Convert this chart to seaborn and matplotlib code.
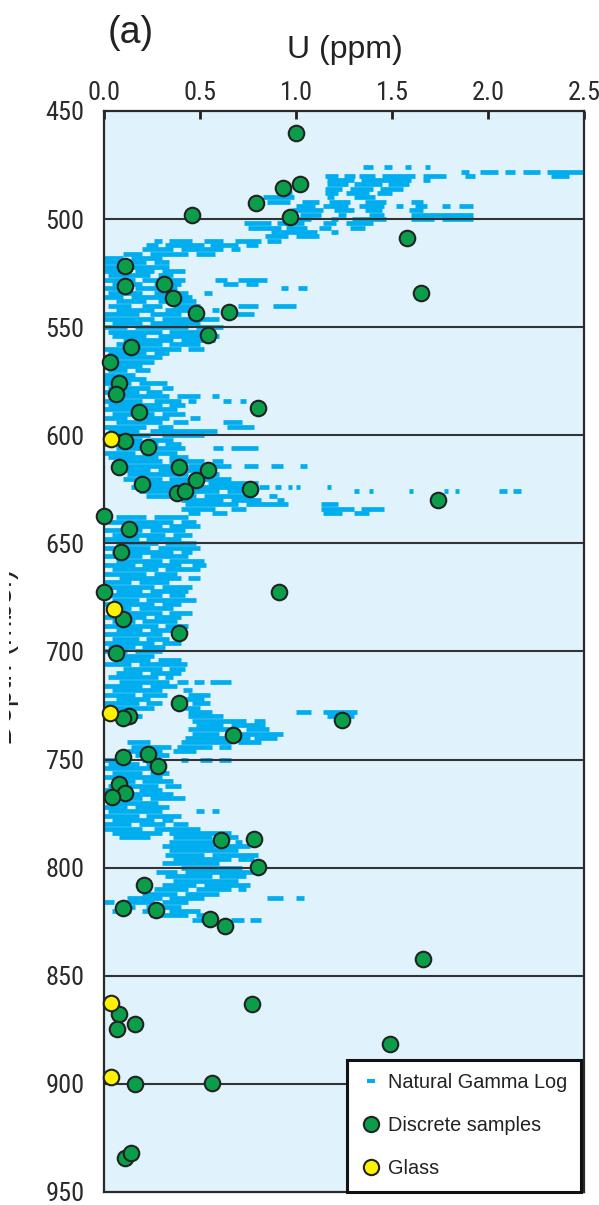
import pandas as pd
import matplotlib.pyplot as plt
import seaborn as sns
from matplotlib.lines import Line2D
from matplotlib.transforms import Bbox, TransformedBbox

# Muestras discretas (U ppm, profundidad mbsf)
sample_u = [1.00, 0.93, 1.02, 0.79, 0.46, 0.97, 1.58, 0.11, 0.11, 0.31, 0.36, 0.48,
            0.65, 1.65, 0.54, 0.14, 0.03, 0.08, 0.06, 0.18, 0.80, 0.11, 0.23, 0.08,
            0.39, 0.54, 0.48, 0.20, 0.38, 0.42, 0.76, 1.74, 0.00, 0.13, 0.09, 0.00,
            0.91, 0.10, 0.39, 0.06, 0.39, 0.13, 0.10, 1.24, 0.67, 0.10, 0.23, 0.28,
            0.08, 0.11, 0.04, 0.61, 0.78, 0.80, 0.21, 0.10, 0.27, 0.55, 0.63, 1.66,
            0.77, 0.08, 0.16, 0.07, 1.49, 0.16, 0.56, 0.11, 0.14]
sample_depth = [460.2, 485.5, 483.9, 492.7, 498.1, 498.9, 508.6, 521.7, 531.0, 530.2, 536.6, 543.6,
                543.1, 534.0, 553.6, 559.0, 566.2, 576.0, 580.9, 589.0, 587.2, 602.6, 605.3, 614.5,
                614.5, 616.0, 620.7, 622.7, 626.5, 625.8, 625.0, 630.0, 637.3, 643.3, 653.8, 672.3,
                672.3, 685.1, 691.3, 700.8, 724.0, 729.8, 730.6, 731.7, 738.6, 748.6, 747.5, 752.9,
                761.3, 765.6, 767.4, 787.2, 786.7, 799.5, 808.0, 818.5, 819.6, 823.7, 827.0, 842.2,
                863.2, 867.8, 872.4, 874.7, 881.7, 900.2, 899.7, 934.1, 931.8]

# Vidrio
glass_u = [0.035, 0.05, 0.03, 0.036, 0.036]
glass_depth = [601.7, 680.3, 728.3, 862.7, 896.6]

# Registro de rayos gamma: (profundidad, U inicio, U fin) de cada trazo
log_476_520 = [
    (476, 1.35, 1.40), (476, 1.46, 1.50), (476, 1.57, 1.60), (476, 1.67, 1.70),
    (478, 1.86, 1.90), (478, 1.96, 2.05), (478, 2.09, 2.14), (478, 2.18, 2.27), (478, 2.31, 2.50),
    (480, 1.15, 1.22), (480, 1.25, 1.31), (480, 1.33, 1.41), (480, 1.45, 1.62), (480, 1.66, 1.78),
    (480, 1.88, 1.93), (480, 2.33, 2.42),
    (482, 1.16, 1.30), (482, 1.34, 1.60), (482, 1.66, 1.70),
    (484, 1.16, 1.27), (484, 1.30, 1.45), (484, 1.48, 1.59),
    (486, 1.15, 1.24), (486, 1.28, 1.40), (486, 1.44, 1.56),
    (488, 0.93, 0.98), (488, 1.15, 1.22), (488, 1.26, 1.38), (488, 1.42, 1.50),
    (490, 0.83, 0.99), (490, 1.16, 1.20), (490, 1.30, 1.41),
    (492, 0.85, 0.97), (492, 1.03, 1.12), (492, 1.17, 1.28), (492, 1.36, 1.47), (492, 1.60, 1.66),
    (494, 1.00, 1.10), (494, 1.14, 1.27), (494, 1.33, 1.46), (494, 1.52, 1.56), (494, 1.62, 1.68),
    (494, 1.76, 1.80), (494, 1.85, 1.92),
    (496, 0.98, 1.14), (496, 1.20, 1.30), (496, 1.36, 1.45), (496, 1.59, 1.66),
    (498, 1.02, 1.13), (498, 1.22, 1.26), (498, 1.38, 1.46), (498, 1.60, 1.92),
    (500, 0.98, 1.08), (500, 1.18, 1.22), (500, 1.29, 1.47), (500, 1.60, 1.72), (500, 1.76, 1.92),
    (502, 0.73, 0.87), (502, 0.90, 1.04), (502, 1.14, 1.21), (502, 1.26, 1.40),
    (504, 0.75, 0.92), (504, 0.95, 1.06), (504, 1.12, 1.18), (504, 1.28, 1.36),
    (506, 0.87, 1.11), (506, 1.18, 1.22),
    (508, 0.84, 0.96), (508, 1.00, 1.12),
    (510, 0.26, 0.30), (510, 0.34, 0.46), (510, 0.52, 0.62), (510, 0.68, 0.82), (510, 0.85, 0.92),
    (512, 0.22, 0.28), (512, 0.32, 0.52), (512, 0.55, 0.70), (512, 0.74, 0.80),
    (514, 0.20, 0.36), (514, 0.40, 0.62), (514, 0.66, 0.71),
    (516, 0.10, 0.20), (516, 0.24, 0.44), (516, 0.48, 0.58),
    (518, 0.00, 0.10), (518, 0.14, 0.30),
    (520, 0.00, 0.22), (520, 0.26, 0.34),
]
log_522_598 = [
    (522, 0.00, 0.08), (522, 0.14, 0.34),
    (524, 0.00, 0.12), (524, 0.16, 0.26), (524, 0.30, 0.42),
    (526, 0.02, 0.24), (526, 0.28, 0.36),
    (528, 0.00, 0.16), (528, 0.20, 0.42), (528, 0.58, 0.64), (528, 0.70, 0.85),
    (530, 0.04, 0.20), (530, 0.26, 0.40), (530, 0.62, 0.70), (530, 0.74, 0.80),
    (532, 0.00, 0.12), (532, 0.16, 0.30), (532, 0.34, 0.38), (532, 0.92, 0.96), (532, 1.01, 1.06),
    (534, 0.02, 0.20), (534, 0.26, 0.44), (534, 0.52, 0.56),
    (536, 0.00, 0.10), (536, 0.14, 0.36), (536, 0.40, 0.46),
    (538, 0.06, 0.22), (538, 0.28, 0.48),
    (540, 0.02, 0.14), (540, 0.20, 0.30), (540, 0.36, 0.50), (540, 0.70, 0.80), (540, 0.88, 1.00),
    (542, 0.06, 0.26), (542, 0.32, 0.46), (542, 0.56, 0.60),
    (544, 0.00, 0.18), (544, 0.24, 0.40), (544, 0.68, 0.78),
    (546, 0.00, 0.26), (546, 0.30, 0.60),
    (548, 0.04, 0.20), (548, 0.24, 0.50),
    (550, 0.00, 0.12), (550, 0.16, 0.44), (550, 0.48, 0.62),
    (552, 0.02, 0.30), (552, 0.34, 0.56),
    (554, 0.04, 0.22), (554, 0.28, 0.60),
    (556, 0.10, 0.36), (556, 0.40, 0.58),
    (558, 0.06, 0.30), (558, 0.34, 0.50),
    (560, 0.00, 0.10), (560, 0.18, 0.40), (560, 0.44, 0.52),
    (562, 0.02, 0.22), (562, 0.26, 0.34),
    (564, 0.00, 0.30),
    (566, 0.04, 0.26),
    (568, 0.00, 0.20),
    (570, 0.02, 0.12), (570, 0.16, 0.24),
    (572, 0.00, 0.16),
    (574, 0.00, 0.22),
    (576, 0.00, 0.14), (576, 0.18, 0.33),
    (578, 0.02, 0.24), (578, 0.30, 0.36),
    (580, 0.00, 0.18), (580, 0.22, 0.30),
    (582, 0.06, 0.34), (582, 0.38, 0.50), (582, 0.56, 0.60),
    (584, 0.00, 0.20), (584, 0.26, 0.40), (584, 0.44, 0.48), (584, 0.62, 0.66), (584, 0.71, 0.74),
    (586, 0.02, 0.30), (586, 0.34, 0.42),
    (588, 0.00, 0.16), (588, 0.22, 0.38),
    (590, 0.04, 0.26), (590, 0.30, 0.42),
    (592, 0.00, 0.12), (592, 0.16, 0.34), (592, 0.45, 0.50),
    (594, 0.06, 0.30), (594, 0.36, 0.44), (594, 0.62, 0.72),
    (596, 0.00, 0.22), (596, 0.28, 0.36), (596, 0.64, 0.78),
    (598, 0.02, 0.18), (598, 0.24, 0.59),
]
log_600_698 = [
    (600, 0.00, 0.24), (600, 0.30, 0.52),
    (602, 0.04, 0.20), (602, 0.24, 0.36),
    (604, 0.00, 0.28), (604, 0.32, 0.40),
    (606, 0.06, 0.22), (606, 0.26, 0.42), (606, 0.57, 0.62), (606, 0.66, 0.80),
    (608, 0.00, 0.16), (608, 0.20, 0.38),
    (610, 0.02, 0.28), (610, 0.34, 0.44),
    (612, 0.08, 0.30), (612, 0.34, 0.52), (612, 0.56, 0.62),
    (614, 0.10, 0.40), (614, 0.44, 0.66), (614, 0.73, 0.80), (614, 0.87, 0.93), (614, 1.02, 1.06),
    (616, 0.06, 0.24), (616, 0.28, 0.56),
    (618, 0.12, 0.44), (618, 0.48, 0.60),
    (620, 0.10, 0.30), (620, 0.34, 0.66),
    (622, 0.16, 0.50), (622, 0.54, 0.80),
    (624, 0.14, 0.42), (624, 0.46, 0.72), (624, 0.81, 0.86), (624, 0.89, 0.92), (624, 0.96, 0.98),
    (624, 1.00, 1.02), (624, 1.16, 1.18),
    (626, 0.18, 0.60), (626, 0.64, 0.80), (626, 1.30, 1.33), (626, 1.38, 1.40), (626, 1.59, 1.61),
    (626, 1.77, 1.79), (626, 1.83, 1.85), (626, 2.06, 2.10), (626, 2.13, 2.17),
    (628, 0.22, 0.48), (628, 0.52, 0.78), (628, 0.86, 0.90),
    (630, 0.40, 0.62), (630, 0.66, 0.82), (630, 0.90, 0.94),
    (632, 0.42, 0.70), (632, 0.74, 0.96), (632, 1.13, 1.22),
    (634, 0.40, 0.58), (634, 0.66, 0.74), (634, 1.13, 1.30), (634, 1.34, 1.46),
    (636, 0.44, 0.50), (636, 0.56, 0.64), (636, 1.14, 1.24), (636, 1.30, 1.38),
    (638, 0.06, 0.22), (638, 0.26, 0.44),
    (640, 0.02, 0.36), (640, 0.40, 0.48),
    (642, 0.10, 0.30), (642, 0.34, 0.50),
    (644, 0.00, 0.20), (644, 0.24, 0.42),
    (646, 0.04, 0.32), (646, 0.36, 0.46),
    (648, 0.00, 0.18), (648, 0.22, 0.40),
    (650, 0.06, 0.28), (650, 0.32, 0.48),
    (652, 0.00, 0.24), (652, 0.28, 0.50),
    (654, 0.04, 0.36), (654, 0.40, 0.46),
    (656, 0.00, 0.20), (656, 0.24, 0.44),
    (658, 0.06, 0.30), (658, 0.34, 0.52),
    (660, 0.00, 0.16), (660, 0.20, 0.40), (660, 0.46, 0.53),
    (662, 0.04, 0.28), (662, 0.32, 0.50),
    (664, 0.00, 0.22), (664, 0.26, 0.38),
    (666, 0.08, 0.40), (666, 0.44, 0.50),
    (668, 0.00, 0.14), (668, 0.18, 0.34),
    (670, 0.02, 0.26), (670, 0.30, 0.46),
    (672, 0.06, 0.20), (672, 0.24, 0.44),
    (674, 0.00, 0.30), (674, 0.34, 0.42),
    (676, 0.04, 0.18), (676, 0.22, 0.48),
    (678, 0.00, 0.26), (678, 0.30, 0.40),
    (680, 0.02, 0.14), (680, 0.18, 0.36),
    (682, 0.06, 0.30), (682, 0.34, 0.46),
    (684, 0.00, 0.22), (684, 0.26, 0.40),
    (686, 0.04, 0.16), (686, 0.20, 0.38),
    (688, 0.00, 0.28), (688, 0.32, 0.44),
    (690, 0.06, 0.20), (690, 0.24, 0.40),
    (692, 0.00, 0.30),
    (694, 0.04, 0.18), (694, 0.22, 0.34),
    (696, 0.00, 0.26), (696, 0.30, 0.40),
    (698, 0.02, 0.16), (698, 0.20, 0.32),
]
log_700_824 = [
    (700, 0.00, 0.12), (700, 0.16, 0.30),
    (702, 0.04, 0.26),
    (704, 0.08, 0.24), (704, 0.28, 0.40),
    (706, 0.00, 0.14), (706, 0.18, 0.43),
    (708, 0.10, 0.30), (708, 0.34, 0.42),
    (710, 0.06, 0.20), (710, 0.24, 0.40),
    (712, 0.02, 0.28), (712, 0.32, 0.36),
    (714, 0.08, 0.34), (714, 0.38, 0.44), (714, 0.47, 0.52), (714, 0.55, 0.66),
    (716, 0.00, 0.20), (716, 0.24, 0.38),
    (718, 0.04, 0.30), (718, 0.41, 0.46),
    (720, 0.00, 0.16), (720, 0.20, 0.33), (720, 0.44, 0.55),
    (722, 0.06, 0.24), (722, 0.40, 0.52),
    (724, 0.00, 0.18), (724, 0.22, 0.30), (724, 0.46, 0.55),
    (726, 0.04, 0.26), (726, 0.42, 0.50),
    (728, 0.00, 0.14), (728, 0.44, 0.56), (728, 1.00, 1.08), (728, 1.14, 1.32),
    (730, 0.02, 0.20), (730, 0.44, 0.62), (730, 1.16, 1.22), (730, 1.26, 1.30),
    (732, 0.10, 0.16), (732, 0.46, 0.74), (732, 0.78, 0.84),
    (734, 0.48, 0.62), (734, 0.66, 0.84),
    (736, 0.44, 0.70), (736, 0.74, 0.86),
    (738, 0.46, 0.60), (738, 0.64, 0.93),
    (740, 0.42, 0.76), (740, 0.78, 0.90),
    (742, 0.12, 0.24), (742, 0.40, 0.66), (742, 0.70, 0.82),
    (744, 0.14, 0.35), (744, 0.38, 0.56), (744, 0.60, 0.66),
    (746, 0.12, 0.30), (746, 0.36, 0.48),
    (748, 0.16, 0.34),
    (750, 0.00, 0.08), (750, 0.20, 0.26), (750, 0.40, 0.44), (750, 0.50, 0.56), (750, 0.60, 0.66),
    (752, 0.02, 0.18), (752, 0.22, 0.30),
    (754, 0.00, 0.24),
    (756, 0.04, 0.20), (756, 0.24, 0.34),
    (758, 0.00, 0.30),
    (760, 0.06, 0.16), (760, 0.20, 0.36),
    (762, 0.02, 0.28), (762, 0.32, 0.40),
    (764, 0.00, 0.14), (764, 0.18, 0.30),
    (766, 0.06, 0.36),
    (768, 0.00, 0.20), (768, 0.24, 0.42),
    (770, 0.04, 0.28),
    (772, 0.00, 0.12), (772, 0.16, 0.34),
    (774, 0.02, 0.30), (774, 0.48, 0.52), (774, 0.56, 0.60),
    (776, 0.00, 0.18), (776, 0.22, 0.40),
    (778, 0.04, 0.26), (778, 0.30, 0.36),
    (780, 0.00, 0.14), (780, 0.18, 0.32), (780, 0.36, 0.44),
    (782, 0.00, 0.20), (782, 0.26, 0.50),
    (784, 0.04, 0.30), (784, 0.34, 0.66),
    (786, 0.08, 0.24), (786, 0.36, 0.56), (786, 0.60, 0.70),
    (788, 0.34, 0.64), (788, 0.68, 0.72),
    (790, 0.30, 0.58), (790, 0.62, 0.76),
    (792, 0.34, 0.70),
    (794, 0.32, 0.52), (794, 0.56, 0.80),
    (796, 0.36, 0.66), (796, 0.70, 0.78),
    (798, 0.30, 0.60),
    (800, 0.40, 0.72), (800, 0.76, 0.80),
    (802, 0.27, 0.38), (802, 0.42, 0.80),
    (804, 0.32, 0.56), (804, 0.60, 0.74),
    (806, 0.36, 0.70),
    (808, 0.30, 0.48), (808, 0.52, 0.76),
    (810, 0.26, 0.44), (810, 0.48, 0.66), (810, 0.70, 0.74),
    (812, 0.20, 0.38), (812, 0.42, 0.60),
    (814, 0.12, 0.30), (814, 0.34, 0.52), (814, 0.85, 0.93), (814, 1.00, 1.04),
    (816, 0.00, 0.05), (816, 0.10, 0.26), (816, 0.30, 0.44),
    (818, 0.06, 0.16), (818, 0.22, 0.40),
    (820, 0.04, 0.14), (820, 0.20, 0.30), (820, 0.34, 0.50),
    (822, 0.24, 0.44), (822, 0.48, 0.53),
    (824, 0.46, 0.54), (824, 0.66, 0.73), (824, 0.76, 0.82),
]

depth_ticks = [450, 500, 550, 600, 650, 700, 750, 800, 850, 900, 950]
u_ticks = [0.0, 0.5, 1.0, 1.5, 2.0, 2.5]

# Colores
c_log = '#00aeef'
c_sample = '#0a9e4a'
c_glass = '#fff200'
c_bg = '#e0f2fc'

df_log = pd.DataFrame(log_476_520 + log_522_598 + log_600_698 + log_700_824,
                      columns=['depth', 'u0', 'u1'])
df_sample = pd.DataFrame({'U': sample_u, 'depth': sample_depth})
df_glass = pd.DataFrame({'U': glass_u, 'depth': glass_depth})

sns.set_style('white')
plt.rcParams['font.family'] = ['Liberation Sans', 'DejaVu Sans']
narrow = ['Liberation Sans Narrow', 'Roboto Condensed', 'PT Sans Narrow', 'Archivo Narrow',
          'Liberation Sans']

fig = plt.figure(figsize=(5.99, 12.05), dpi=100)
ax = fig.add_axes([0.1736, 0.0108, 0.8013, 0.8971])
ax.set_facecolor(c_bg)

# Registro gamma como trazos horizontales
ax.hlines(df_log['depth'], df_log['u0'], df_log['u1'], color=c_log, lw=3.4, zorder=1.5)

# Lineas horizontales cada 50 m
for d in depth_ticks[1:-1]:
    ax.axhline(d, color='#333333', lw=1.5, zorder=2)

sns.scatterplot(data=df_sample, x='U', y='depth', ax=ax, color=c_sample, s=125,
                edgecolor='#222222', linewidth=1.5, zorder=3, clip_on=False, legend=False)
sns.scatterplot(data=df_glass, x='U', y='depth', ax=ax, color=c_glass, s=125,
                edgecolor='#222222', linewidth=1.5, zorder=3, clip_on=False, legend=False)

ax.set_xlim(0, 2.5)
ax.set_ylim(950, 450)
ax.set_xticks(u_ticks)
ax.set_xticklabels([f'{t:.1f}' for t in u_ticks])
ax.set_yticks(depth_ticks)
ax.set_yticklabels([str(t) for t in depth_ticks])
ax.xaxis.tick_top()
ax.set_xlabel('')
ax.set_ylabel('')
for lab in ax.get_xticklabels() + ax.get_yticklabels():
    lab.set_family(narrow)
    lab.set_fontsize(19)
    lab.set_color('#2a2a2a')
ax.tick_params(axis='x', direction='in', length=6, width=2, color='#222222', pad=4)
ax.tick_params(axis='y', length=0, pad=14)

for side in ['left', 'right', 'top', 'bottom']:
    ax.spines[side].set_visible(True)
    ax.spines[side].set_color('#2a2a2a')
    ax.spines[side].set_linewidth(1.6)

# Leyenda
handles = [
    Line2D([], [], ls='none', marker=[(-1, -0.55), (1, -0.55), (1, 0.55), (-1, 0.55)],
           markersize=6, color=c_log, markeredgewidth=0),
    Line2D([], [], ls='none', marker='o', markersize=11, markerfacecolor=c_sample,
           markeredgecolor='#222222', markeredgewidth=1.5),
    Line2D([], [], ls='none', marker='o', markersize=11, markerfacecolor=c_glass,
           markeredgecolor='#222222', markeredgewidth=1.5),
]
leg = ax.legend(handles, ['Natural Gamma Log', 'Discrete samples', 'Glass'],
                loc='lower right', bbox_to_anchor=(0.994, 0.0), borderaxespad=0,
                fontsize=14.3, frameon=True, fancybox=False, framealpha=1,
                edgecolor='#111111', handlelength=1.0, handletextpad=0.35,
                labelspacing=1.2, borderpad=0.7)
leg.get_frame().set_linewidth(2.2)
leg.set_zorder(5)
for t in leg.get_texts():
    t.set_color('#222222')

fig.text(131 / 599, 1 - 33 / 1205, '(a)', fontsize=27, ha='center', va='center', color='#222222')
fig.text(345 / 599, 1 - 50 / 1205, 'U (ppm)', fontsize=23, ha='center', va='center', color='#222222')

# Etiqueta de profundidad recortada en el borde, como en la figura original
ylab = fig.text(4 / 599, 1 - 657 / 1205, 'Depth (mbsf)', fontsize=22, rotation=90, ha='center',
                va='center', color='#222222')
ylab.set_clip_box(TransformedBbox(Bbox([[9 / 599, 0], [1, 1]]), fig.transFigure))
ylab.set_clip_on(True)

fig.savefig('out.png', dpi=100)
